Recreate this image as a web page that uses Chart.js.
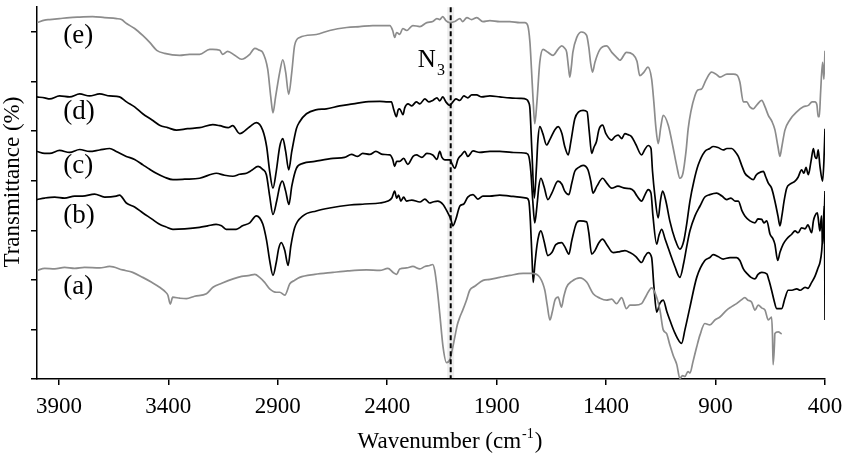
<!DOCTYPE html>
<html>
<head>
<meta charset="utf-8">
<script src="https://cdn.jsdelivr.net/npm/chart.js@4.4.1/dist/chart.umd.min.js"></script>
<style>
  html, body { margin: 0; padding: 0; background: #fff; }
</style>
</head>
<body>
<canvas id="ftir" width="856" height="456"></canvas>
<script>
// FTIR spectra (a)-(e): [wavenumber cm-1, transmittance (offset units)]
const xTicks = [3900, 3400, 2900, 2400, 1900, 1400, 900, 400];
const yTicks = [0, 1, 2, 3, 4, 5, 6, 7];
const azideBand = 2110;

const specA = [[4000,2.19],[3965,2.23],[3919,2.22],[3874,2.25],[3828,2.23],[3783,2.25],[3714,2.24],[3668,2.27],[3609,2.20],[3563,2.15],[3517,2.05],[3476,1.95],[3440,1.85],[3412,1.75],[3402,1.69],[3391,1.51],[3380,1.65],[3348,1.63],[3317,1.62],[3280,1.67],[3226,1.72],[3196,1.85],[3156,1.93],[3104,2.02],[3065,2.07],[3028,2.09],[3005,2.11],[2983,2.05],[2960,1.95],[2937,1.82],[2906,1.75],[2891,1.75],[2868,1.69],[2845,1.92],[2823,1.99],[2800,2.05],[2731,2.11],[2648,2.15],[2580,2.18],[2495,2.20],[2434,2.19],[2397,2.23],[2373,2.15],[2357,2.11],[2343,2.22],[2312,2.24],[2283,2.27],[2251,2.22],[2228,2.27],[2206,2.29],[2192,2.31],[2183,2.19],[2171,1.79],[2160,1.32],[2145,0.65],[2129,0.33],[2114,0.39],[2103,0.59],[2091,0.85],[2080,1.09],[2068,1.25],[2055,1.39],[2038,1.59],[2023,1.79],[2000,1.87],[1962,1.99],[1931,2.01],[1886,2.05],[1840,2.09],[1779,2.13],[1739,2.13],[1703,2.05],[1680,1.79],[1669,1.49],[1657,1.19],[1646,1.35],[1634,1.59],[1619,1.65],[1604,1.45],[1593,1.67],[1581,1.85],[1557,1.97],[1520,2.04],[1488,1.95],[1459,1.72],[1428,1.63],[1398,1.59],[1374,1.61],[1352,1.52],[1329,1.64],[1307,1.42],[1291,1.49],[1268,1.49],[1238,1.52],[1218,1.67],[1192,1.84],[1169,1.65],[1154,1.39],[1139,0.99],[1124,0.92],[1109,0.69],[1093,0.47],[1077,0.29],[1063,0.01],[1051,0.07],[1040,0.05],[1026,0.15],[1017,0.12],[1003,0.35],[986,0.65],[971,0.89],[949,1.12],[926,1.09],[903,1.19],[880,1.25],[849,1.39],[830,1.45],[804,1.52],[784,1.59],[766,1.64],[752,1.59],[735,1.55],[720,1.39],[705,1.49],[688,1.43],[674,1.39],[659,1.19],[644,1.25],[640,0.89],[637,0.29],[631,0.69],[629,0.92],[614,0.95],[598,0.91]];

const specB = [[4000,3.62],[3965,3.65],[3919,3.67],[3874,3.65],[3828,3.69],[3792,3.69],[3737,3.73],[3691,3.67],[3638,3.69],[3623,3.71],[3592,3.55],[3554,3.47],[3516,3.35],[3476,3.23],[3440,3.12],[3412,3.07],[3379,3.02],[3325,3.03],[3257,3.06],[3220,3.09],[3182,3.12],[3157,3.09],[3136,3.02],[3090,3.02],[3061,3.09],[3028,3.15],[2998,3.29],[2983,3.25],[2968,3.12],[2951,2.79],[2937,2.39],[2922,2.09],[2907,2.35],[2896,2.63],[2884,2.75],[2868,2.59],[2853,2.29],[2840,2.69],[2823,3.05],[2785,3.29],[2724,3.39],[2663,3.45],[2571,3.51],[2503,3.53],[2434,3.55],[2397,3.59],[2379,3.65],[2366,3.79],[2357,3.65],[2348,3.71],[2338,3.59],[2325,3.67],[2312,3.59],[2288,3.61],[2251,3.57],[2228,3.63],[2206,3.55],[2192,3.57],[2169,3.59],[2145,3.52],[2123,3.35],[2110,3.23],[2100,3.09],[2086,3.23],[2068,3.49],[2050,3.53],[2032,3.67],[2008,3.72],[1986,3.63],[1963,3.69],[1931,3.69],[1886,3.71],[1840,3.69],[1794,3.67],[1763,3.65],[1753,3.59],[1746,3.19],[1739,2.49],[1733,1.95],[1726,2.29],[1716,2.69],[1707,2.91],[1698,2.99],[1684,2.79],[1666,2.49],[1648,2.55],[1630,2.71],[1603,2.75],[1589,2.67],[1570,2.52],[1557,2.79],[1535,3.15],[1520,3.19],[1489,3.17],[1479,2.95],[1466,2.52],[1451,2.59],[1433,2.75],[1416,2.82],[1397,2.71],[1368,2.55],[1337,2.57],[1314,2.59],[1291,2.55],[1264,2.47],[1238,2.35],[1223,2.47],[1208,2.55],[1192,2.45],[1182,1.89],[1169,1.35],[1154,1.53],[1139,1.59],[1122,1.35],[1109,1.19],[1086,0.93],[1055,0.72],[1040,0.99],[1017,1.45],[986,2.05],[949,2.39],[926,2.45],[911,2.51],[889,2.47],[865,2.42],[834,2.45],[804,2.45],[789,2.39],[773,2.22],[757,2.13],[738,2.05],[720,2.02],[706,2.11],[689,2.15],[666,2.12],[656,1.99],[644,1.79],[633,1.59],[621,1.42],[598,1.42],[583,1.63],[568,1.79],[551,1.79],[529,1.82],[514,1.79],[491,1.85],[478,1.83],[461,1.95],[446,2.07],[431,2.25],[423,2.35],[415,2.59],[408,3.12],[403,3.49],[400,1.19]];

const specC = [[4000,4.59],[3965,4.55],[3942,4.55],[3897,4.61],[3851,4.57],[3805,4.63],[3760,4.59],[3714,4.62],[3668,4.65],[3638,4.59],[3592,4.49],[3554,4.43],[3516,4.32],[3485,4.23],[3455,4.15],[3417,4.07],[3379,4.02],[3325,4.03],[3257,4.05],[3181,4.15],[3143,4.11],[3105,4.09],[3074,4.13],[3043,4.15],[3019,4.21],[2990,4.29],[2969,4.23],[2952,4.12],[2937,3.69],[2922,3.32],[2905,3.59],[2891,3.89],[2879,3.99],[2864,3.79],[2849,3.52],[2836,3.89],[2815,4.25],[2785,4.35],[2731,4.39],[2648,4.45],[2595,4.47],[2563,4.53],[2535,4.49],[2512,4.55],[2480,4.53],[2452,4.59],[2420,4.53],[2388,4.52],[2375,4.43],[2366,4.29],[2357,4.39],[2343,4.39],[2325,4.45],[2306,4.33],[2282,4.49],[2267,4.52],[2242,4.47],[2219,4.55],[2192,4.52],[2173,4.43],[2160,4.59],[2150,4.47],[2137,4.42],[2114,4.42],[2105,4.35],[2091,4.25],[2077,4.43],[2061,4.52],[2046,4.59],[2032,4.49],[2008,4.60],[1977,4.57],[1931,4.59],[1886,4.59],[1831,4.57],[1763,4.55],[1753,4.49],[1744,4.19],[1735,3.59],[1726,3.15],[1716,3.49],[1707,3.89],[1698,4.05],[1684,3.89],[1666,3.62],[1648,3.75],[1620,3.99],[1602,3.93],[1589,3.79],[1570,3.72],[1557,3.95],[1543,4.19],[1525,4.27],[1505,4.31],[1483,4.22],[1470,3.99],[1460,3.75],[1442,3.89],[1416,4.05],[1397,3.95],[1375,3.85],[1346,3.89],[1314,3.85],[1291,3.84],[1273,3.79],[1259,3.69],[1238,3.59],[1223,3.71],[1208,3.82],[1195,3.75],[1186,3.29],[1169,2.72],[1159,2.89],[1146,3.02],[1131,2.83],[1109,2.55],[1086,2.27],[1063,2.05],[1045,2.35],[1031,2.69],[1017,2.99],[994,3.29],[971,3.49],[949,3.67],[926,3.72],[895,3.75],[871,3.69],[849,3.62],[830,3.65],[811,3.59],[796,3.59],[779,3.39],[766,3.29],[743,3.19],[720,3.15],[706,3.23],[689,3.22],[679,3.15],[666,3.19],[651,2.92],[638,2.83],[629,2.72],[616,2.39],[606,2.55],[591,2.72],[574,2.83],[552,2.92],[537,2.99],[523,2.95],[507,3.05],[491,3.03],[478,3.11],[461,2.95],[453,3.19],[446,3.29],[435,3.35],[427,3.09],[423,2.99],[416,3.29],[411,2.72],[405,3.09],[400,3.79]];

const specD = [[4000,5.69],[3965,5.67],[3942,5.65],[3897,5.71],[3851,5.69],[3805,5.75],[3760,5.71],[3714,5.75],[3668,5.71],[3623,5.69],[3591,5.59],[3554,5.49],[3517,5.35],[3476,5.23],[3440,5.12],[3403,5.07],[3363,5.02],[3312,5.05],[3257,5.07],[3197,5.13],[3165,5.11],[3127,5.07],[3106,5.11],[3074,4.95],[3028,5.09],[2998,5.17],[2969,5.02],[2951,4.69],[2937,4.19],[2922,3.85],[2907,4.19],[2891,4.69],[2877,4.85],[2864,4.59],[2850,4.22],[2836,4.59],[2815,5.05],[2800,5.19],[2769,5.35],[2727,5.43],[2678,5.45],[2617,5.51],[2556,5.55],[2498,5.59],[2434,5.60],[2397,5.59],[2381,5.59],[2370,5.43],[2358,5.29],[2350,5.43],[2343,5.45],[2328,5.33],[2320,5.47],[2305,5.55],[2288,5.51],[2267,5.59],[2251,5.55],[2228,5.65],[2210,5.59],[2192,5.62],[2173,5.67],[2160,5.61],[2146,5.69],[2132,5.59],[2114,5.52],[2100,5.59],[2086,5.65],[2068,5.62],[2050,5.71],[2032,5.67],[2014,5.73],[1992,5.73],[1968,5.69],[1931,5.71],[1886,5.69],[1840,5.67],[1794,5.66],[1763,5.64],[1755,5.59],[1748,5.45],[1739,4.59],[1728,3.65],[1718,4.29],[1712,4.79],[1703,5.09],[1689,4.95],[1672,4.72],[1657,4.83],[1634,5.03],[1619,5.09],[1602,4.95],[1589,4.69],[1573,4.52],[1561,4.79],[1543,5.25],[1525,5.39],[1505,5.42],[1487,5.39],[1477,4.99],[1466,4.55],[1456,4.67],[1444,4.79],[1433,5.03],[1416,5.12],[1401,4.95],[1375,4.82],[1360,4.89],[1345,4.92],[1329,4.85],[1314,4.95],[1300,4.93],[1284,4.89],[1264,4.73],[1238,4.52],[1223,4.63],[1208,4.71],[1195,4.65],[1188,4.19],[1177,3.69],[1162,3.25],[1152,3.59],[1142,3.79],[1127,3.59],[1109,3.19],[1086,2.83],[1063,2.62],[1045,2.79],[1031,3.15],[1017,3.59],[999,3.99],[979,4.32],[949,4.59],[926,4.65],[911,4.69],[889,4.67],[865,4.62],[848,4.65],[826,4.65],[811,4.59],[796,4.49],[779,4.29],[766,4.15],[747,4.07],[728,4.02],[715,4.11],[705,4.15],[682,4.19],[670,4.07],[659,3.95],[644,3.85],[629,3.59],[615,3.29],[606,3.09],[597,3.29],[587,3.59],[575,3.85],[560,3.93],[537,3.99],[523,4.07],[507,4.22],[496,4.15],[487,4.27],[476,4.12],[464,4.39],[453,4.65],[446,4.49],[438,4.45],[431,4.62],[423,4.29],[411,3.99],[405,4.39],[400,5.05]];

const specE = [[4000,7.19],[3965,7.24],[3942,7.25],[3897,7.27],[3851,7.29],[3805,7.30],[3746,7.31],[3691,7.29],[3636,7.27],[3614,7.25],[3591,7.17],[3554,7.07],[3517,6.93],[3485,6.79],[3453,6.63],[3417,6.57],[3348,6.53],[3303,6.55],[3257,6.55],[3211,6.65],[3197,6.65],[3165,6.63],[3152,6.55],[3129,6.61],[3097,6.53],[3065,6.45],[3028,6.55],[3005,6.67],[2983,6.63],[2969,6.59],[2946,6.25],[2932,5.69],[2922,5.37],[2910,5.69],[2891,6.19],[2877,6.44],[2864,6.19],[2850,5.74],[2836,6.19],[2823,6.73],[2800,6.89],[2724,6.95],[2663,7.03],[2585,7.09],[2526,7.11],[2466,7.13],[2420,7.13],[2388,7.13],[2375,7.03],[2366,6.89],[2357,6.99],[2343,6.95],[2329,7.07],[2311,7.03],[2283,7.13],[2251,7.11],[2219,7.19],[2192,7.21],[2173,7.27],[2160,7.25],[2146,7.31],[2132,7.23],[2114,7.19],[2091,7.21],[2068,7.27],[2055,7.21],[2036,7.29],[2014,7.25],[1991,7.29],[1963,7.21],[1931,7.23],[1886,7.21],[1840,7.21],[1794,7.19],[1771,7.19],[1758,7.13],[1748,6.79],[1741,6.25],[1733,5.59],[1726,5.15],[1716,5.59],[1703,6.39],[1688,6.65],[1666,6.59],[1643,6.53],[1620,6.65],[1603,6.72],[1589,6.67],[1580,6.59],[1572,6.29],[1566,6.09],[1559,6.29],[1552,6.59],[1534,6.89],[1512,7.00],[1489,6.93],[1479,6.69],[1470,6.35],[1462,6.19],[1451,6.39],[1428,6.65],[1398,6.72],[1374,6.59],[1352,6.49],[1337,6.43],[1307,6.59],[1278,6.55],[1259,6.41],[1246,6.12],[1227,6.19],[1209,6.29],[1192,6.05],[1182,5.59],[1173,5.09],[1162,4.75],[1150,5.09],[1139,5.32],[1116,5.12],[1095,4.69],[1077,4.29],[1063,4.05],[1049,4.15],[1035,4.59],[1025,5.05],[1013,5.39],[994,5.72],[981,5.83],[964,5.85],[944,6.03],[918,6.19],[898,6.15],[880,6.09],[848,6.15],[819,6.15],[802,6.13],[789,5.99],[773,5.59],[758,5.59],[743,5.49],[728,5.45],[711,5.53],[689,5.62],[674,5.49],[659,5.32],[642,5.19],[629,5.03],[615,4.69],[606,4.49],[597,4.69],[583,5.02],[560,5.23],[529,5.39],[499,5.49],[476,5.52],[459,5.59],[446,5.59],[437,5.53],[431,5.29],[426,5.29],[420,5.79],[411,6.39],[405,6.05],[400,6.62]];

const seriesLabels = [['(e)', 3880, 6.77], ['(d)', 3880, 5.25], ['(c)', 3880, 4.15], ['(b)', 3880, 3.14], ['(a)', 3880, 1.71]];

const serif = '"Liberation Serif", "Times New Roman", serif';
const grey = '#8c8c8c';
const toXY = pts => pts.map(p => ({ x: p[0], y: p[1] }));

function line(label, pts, color) {
  return {
    label: label,
    data: toXY(pts),
    borderColor: color,
    borderWidth: 1.7,
    pointRadius: 0,
    fill: false,
    cubicInterpolationMode: 'monotone'
  };
}

const annotate = {
  id: 'annotate',
  beforeDatasetsDraw(chart) {
    const { ctx, chartArea, scales } = chart;
    const px = scales.x.getPixelForValue(azideBand);
    ctx.save();
    ctx.fillStyle = 'rgba(0,0,0,0.07)';
    ctx.fillRect(px - 3.5, chartArea.top, 7, chartArea.bottom - chartArea.top);
    ctx.restore();
  },
  afterDatasetsDraw(chart) {
    const { ctx, chartArea, scales } = chart;
    const x = scales.x, y = scales.y;
    const px = x.getPixelForValue(azideBand);
    ctx.save();
    ctx.strokeStyle = '#000';
    ctx.lineWidth = 2;
    ctx.setLineDash([5, 3]);
    ctx.beginPath();
    ctx.moveTo(px, chartArea.top);
    ctx.lineTo(px, chartArea.bottom);
    ctx.stroke();
    ctx.setLineDash([]);

    ctx.fillStyle = '#000';
    ctx.textAlign = 'left';
    ctx.textBaseline = 'alphabetic';
    ctx.font = '27px ' + serif;
    seriesLabels.forEach(l => ctx.fillText(l[0], x.getPixelForValue(l[1]), y.getPixelForValue(l[2])));

    // N3 label next to the dashed line
    const nx = x.getPixelForValue(2260), ny = y.getPixelForValue(6.29);
    ctx.font = '25px ' + serif;
    ctx.fillText('N', nx, ny);
    const nw = ctx.measureText('N').width;
    ctx.font = '16px ' + serif;
    ctx.fillText('3', nx + nw + 1, ny + 8);

    // x title with superscript
    const mainT = 'Wavenumber (cm', supT = '-1', endT = ')';
    ctx.font = '23px ' + serif;
    const w1 = ctx.measureText(mainT).width, w3 = ctx.measureText(endT).width;
    ctx.font = '14px ' + serif;
    const w2 = ctx.measureText(supT).width;
    const cx = (chartArea.left + chartArea.right) / 2 + 19;
    const bx = cx - (w1 + w2 + w3 + 2) / 2, by = chartArea.bottom + 69;
    ctx.font = '23px ' + serif;
    ctx.fillText(mainT, bx, by);
    ctx.font = '14px ' + serif;
    ctx.fillText(supT, bx + w1 + 1, by - 10);
    ctx.font = '23px ' + serif;
    ctx.fillText(endT, bx + w1 + w2 + 2, by);

    // y title
    ctx.translate(18.5, (chartArea.top + chartArea.bottom) / 2 - 11);
    ctx.rotate(-Math.PI / 2);
    ctx.textAlign = 'center';
    ctx.fillText('Transmittance (%)', 0, 0);
    ctx.restore();
  }
};

new Chart(document.getElementById('ftir'), {
  type: 'line',
  data: {
    datasets: [
      line('(a)', specA, grey),
      line('(b)', specB, '#000'),
      line('(c)', specC, '#000'),
      line('(d)', specD, '#000'),
      line('(e)', specE, grey)
    ]
  },
  options: {
    responsive: false,
    animation: false,
    layout: { padding: { top: 4, right: 31, left: 0, bottom: 0 } },
    plugins: { legend: { display: false }, tooltip: { enabled: false } },
    scales: {
      x: {
        type: 'linear',
        reverse: true,
        min: 400,
        max: 4000,
        afterBuildTicks: s => { s.ticks = xTicks.map(v => ({ value: v })); },
        afterFit: s => { s.height = 77; },
        ticks: { autoSkip: false, maxRotation: 0, color: '#000', padding: 8, font: { family: serif, size: 23 }, callback: v => String(v) },
        grid: { display: true, drawOnChartArea: false, drawTicks: true, tickLength: 6, color: '#000', lineWidth: 1.5 },
        border: { display: true, color: '#000', width: 1.5 }
      },
      y: {
        min: 0,
        max: 7.5,
        afterBuildTicks: s => { s.ticks = yTicks.map(v => ({ value: v })); },
        afterFit: s => { s.width = 37; },
        ticks: { callback: () => '', padding: 0 },
        grid: { display: true, drawOnChartArea: false, drawTicks: true, tickLength: 6, color: '#000', lineWidth: 1.5 },
        border: { display: true, color: '#000', width: 1.5 }
      }
    }
  },
  plugins: [annotate]
});
</script>
</body>
</html>
